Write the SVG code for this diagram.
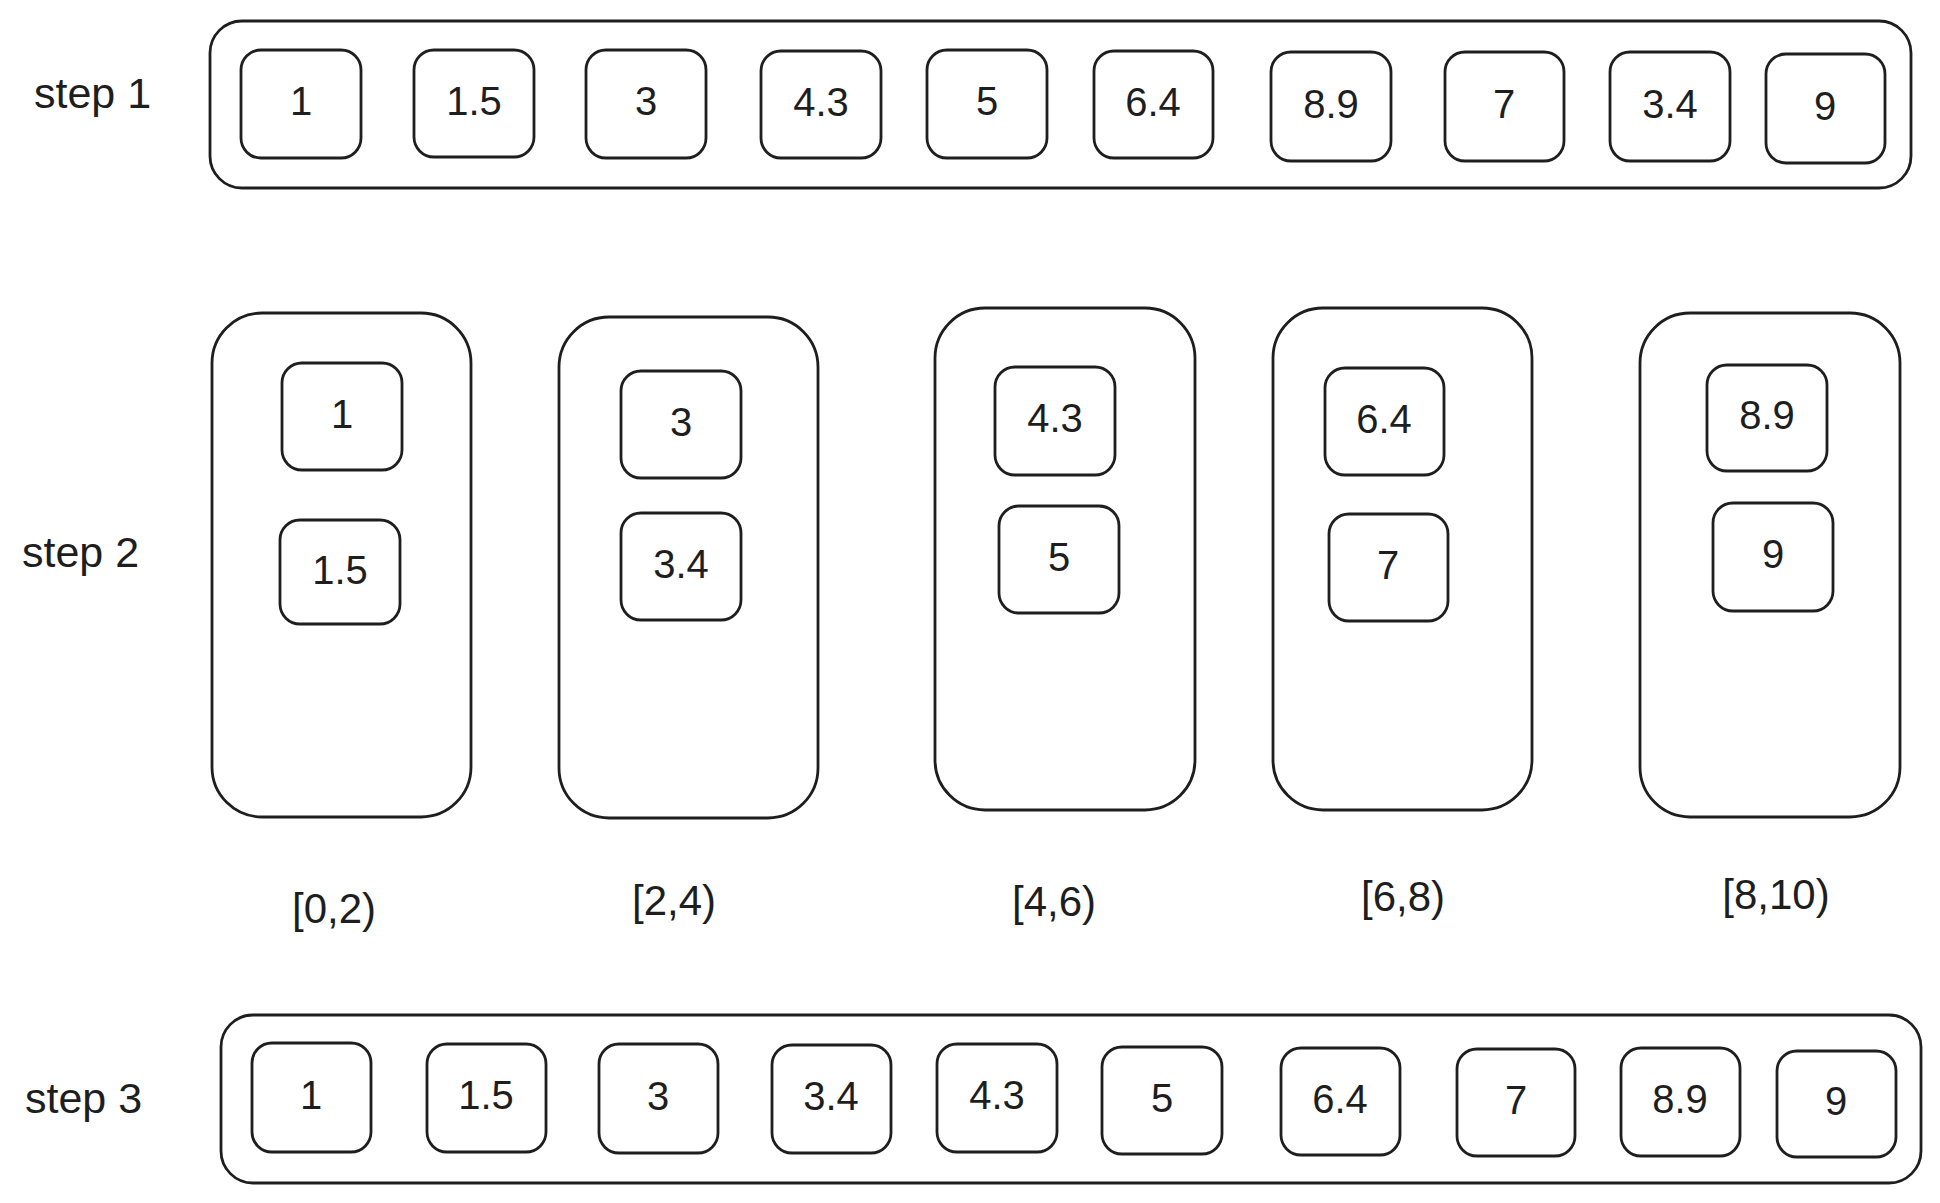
<svg xmlns="http://www.w3.org/2000/svg" width="1940" height="1203" viewBox="0 0 1940 1203">
<style>
.bg{fill:#ffffff}
.frame{fill:none;stroke:#1e1e1e;stroke-width:2.8;stroke-linejoin:round}
.box{fill:none;stroke:#1e1e1e;stroke-width:2.8;stroke-linejoin:round}
.num{font-family:"Liberation Sans","DejaVu Sans",sans-serif;font-size:40px;fill:#1e1e1e;text-anchor:middle}
.lbl{font-family:"Liberation Sans","DejaVu Sans",sans-serif;font-size:43px;fill:#1e1e1e}
.rng{font-family:"Liberation Sans","DejaVu Sans",sans-serif;font-size:42px;fill:#1e1e1e;text-anchor:middle}
</style>
<rect class="bg" x="0" y="0" width="1940" height="1203"/>

<!-- step 1 -->
<g id="step1">
  <text class="lbl" x="34" y="108">step 1</text>
  <g id="s1-frame">
    <rect class="frame" x="210" y="21" width="1701" height="167" rx="32"/>
    <g id="s1-n1"><rect class="box" x="241" y="50" width="120" height="108" rx="20"/><text class="num" x="301" y="115">1</text></g>
    <g id="s1-n2"><rect class="box" x="414" y="50" width="120" height="107" rx="20"/><text class="num" x="474" y="115">1.5</text></g>
    <g id="s1-n3"><rect class="box" x="586" y="50" width="120" height="108" rx="20"/><text class="num" x="646" y="115">3</text></g>
    <g id="s1-n4"><rect class="box" x="761" y="51" width="120" height="107" rx="20"/><text class="num" x="821" y="116">4.3</text></g>
    <g id="s1-n5"><rect class="box" x="927" y="50" width="120" height="108" rx="20"/><text class="num" x="987" y="115">5</text></g>
    <g id="s1-n6"><rect class="box" x="1094" y="51" width="119" height="107" rx="20"/><text class="num" x="1153" y="116">6.4</text></g>
    <g id="s1-n7"><rect class="box" x="1271" y="52" width="120" height="109" rx="20"/><text class="num" x="1331" y="118">8.9</text></g>
    <g id="s1-n8"><rect class="box" x="1445" y="52" width="119" height="109" rx="20"/><text class="num" x="1504" y="118">7</text></g>
    <g id="s1-n9"><rect class="box" x="1610" y="52" width="120" height="109" rx="20"/><text class="num" x="1670" y="118">3.4</text></g>
    <g id="s1-n10"><rect class="box" x="1766" y="54" width="119" height="109" rx="20"/><text class="num" x="1825" y="120">9</text></g>
  </g>
</g>

<!-- step 2 -->
<g id="step2">
  <text class="lbl" x="22" y="567">step 2</text>
  <g id="bucket-0-2">
    <rect class="frame" x="212" y="313" width="259" height="504" rx="50"/>
    <g id="b1-n1"><rect class="box" x="282" y="363" width="120" height="107" rx="20"/><text class="num" x="342" y="428">1</text></g>
    <g id="b1-n2"><rect class="box" x="280" y="520" width="120" height="104" rx="20"/><text class="num" x="340" y="584">1.5</text></g>
    <text class="rng" x="334" y="923">[0,2)</text>
  </g>
  <g id="bucket-2-4">
    <rect class="frame" x="559" y="317" width="259" height="501" rx="50"/>
    <g id="b2-n1"><rect class="box" x="621" y="371" width="120" height="107" rx="20"/><text class="num" x="681" y="436">3</text></g>
    <g id="b2-n2"><rect class="box" x="621" y="513" width="120" height="107" rx="20"/><text class="num" x="681" y="578">3.4</text></g>
    <text class="rng" x="674" y="915">[2,4)</text>
  </g>
  <g id="bucket-4-6">
    <rect class="frame" x="935" y="308" width="260" height="502" rx="50"/>
    <g id="b3-n1"><rect class="box" x="995" y="367" width="120" height="108" rx="20"/><text class="num" x="1055" y="432">4.3</text></g>
    <g id="b3-n2"><rect class="box" x="999" y="506" width="120" height="107" rx="20"/><text class="num" x="1059" y="571">5</text></g>
    <text class="rng" x="1054" y="916">[4,6)</text>
  </g>
  <g id="bucket-6-8">
    <rect class="frame" x="1273" y="308" width="259" height="502" rx="50"/>
    <g id="b4-n1"><rect class="box" x="1325" y="368" width="119" height="107" rx="20"/><text class="num" x="1384" y="433">6.4</text></g>
    <g id="b4-n2"><rect class="box" x="1329" y="514" width="119" height="107" rx="20"/><text class="num" x="1388" y="579">7</text></g>
    <text class="rng" x="1403" y="911">[6,8)</text>
  </g>
  <g id="bucket-8-10">
    <rect class="frame" x="1640" y="313" width="260" height="504" rx="50"/>
    <g id="b5-n1"><rect class="box" x="1707" y="365" width="120" height="106" rx="20"/><text class="num" x="1767" y="429">8.9</text></g>
    <g id="b5-n2"><rect class="box" x="1713" y="503" width="120" height="108" rx="20"/><text class="num" x="1773" y="568">9</text></g>
    <text class="rng" x="1776" y="909">[8,10)</text>
  </g>
</g>

<!-- step 3 -->
<g id="step3">
  <text class="lbl" x="25" y="1113">step 3</text>
  <g id="s3-frame">
    <rect class="frame" x="221" y="1015" width="1700" height="168" rx="32"/>
    <g id="s3-n1"><rect class="box" x="252" y="1043" width="119" height="109" rx="20"/><text class="num" x="311" y="1109">1</text></g>
    <g id="s3-n2"><rect class="box" x="427" y="1044" width="119" height="108" rx="20"/><text class="num" x="486" y="1109">1.5</text></g>
    <g id="s3-n3"><rect class="box" x="599" y="1044" width="119" height="109" rx="20"/><text class="num" x="658" y="1110">3</text></g>
    <g id="s3-n4"><rect class="box" x="772" y="1045" width="119" height="108" rx="20"/><text class="num" x="831" y="1110">3.4</text></g>
    <g id="s3-n5"><rect class="box" x="937" y="1044" width="120" height="108" rx="20"/><text class="num" x="997" y="1109">4.3</text></g>
    <g id="s3-n6"><rect class="box" x="1102" y="1047" width="120" height="107" rx="20"/><text class="num" x="1162" y="1112">5</text></g>
    <g id="s3-n7"><rect class="box" x="1281" y="1048" width="119" height="107" rx="20"/><text class="num" x="1340" y="1113">6.4</text></g>
    <g id="s3-n8"><rect class="box" x="1457" y="1049" width="118" height="107" rx="20"/><text class="num" x="1516" y="1114">7</text></g>
    <g id="s3-n9"><rect class="box" x="1621" y="1048" width="119" height="108" rx="20"/><text class="num" x="1680" y="1113">8.9</text></g>
    <g id="s3-n10"><rect class="box" x="1777" y="1051" width="119" height="106" rx="20"/><text class="num" x="1836" y="1115">9</text></g>
  </g>
</g>

<g id="connectors"></g>
</svg>
